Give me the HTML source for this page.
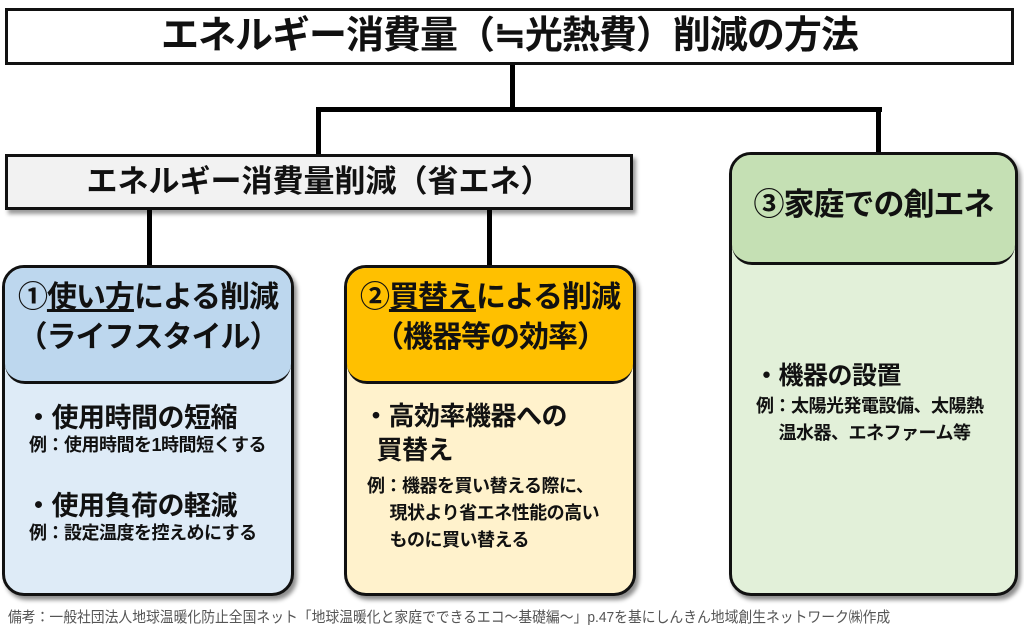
<!DOCTYPE html>
<html><head><meta charset="utf-8"><style>
body{margin:0;width:1024px;height:637px;background:#fff;position:relative;overflow:hidden;font-family:"Liberation Sans","Noto Sans CJK JP",sans-serif;color:#111}
.a{position:absolute;box-sizing:border-box}
.line{position:absolute;background:#000}
.card{position:absolute;box-sizing:border-box;border:3px solid #111;border-radius:22px;overflow:hidden;box-shadow:3px 4px 4px rgba(0,0,0,.45)}
.hd{position:absolute;left:0;right:0;top:0;border-bottom:3px solid #111;border-radius:0 0 20px 20px;text-align:center;font-weight:bold;white-space:nowrap;letter-spacing:-1px}
.bl{position:absolute;font-weight:bold;white-space:nowrap;letter-spacing:-0.5px}
</style></head><body>
<div class="line" style="left:316px;top:107px;width:566px;height:5px"></div>
<div class="line" style="left:510px;top:60px;width:5px;height:50px"></div>
<div class="line" style="left:316px;top:107px;width:5px;height:50px"></div>
<div class="line" style="left:876px;top:107px;width:5px;height:50px"></div>
<div class="line" style="left:147px;top:205px;width:5px;height:65px"></div>
<div class="line" style="left:487px;top:205px;width:5px;height:65px"></div>

<div class="a" style="left:5px;top:8px;width:1009px;height:57px;border:3px solid #111;background:#fff;text-align:center;font-weight:bold;font-size:38px;line-height:51px;white-space:nowrap;letter-spacing:-1px">エネルギー消費量（≒光熱費）削減の方法</div>

<div class="a" style="left:5px;top:154px;width:628px;height:56px;border:3px solid #111;background:#f2f2f2;text-align:center;font-weight:bold;font-size:31px;line-height:50px;white-space:nowrap;box-shadow:3px 4px 4px rgba(0,0,0,.4)">エネルギー消費量削減（省エネ）</div>

<div class="card" style="left:2px;top:265px;width:292px;height:331px;background:#deebf7">
 <div class="hd" style="height:103px;background:#bdd7ee;font-size:30px;line-height:40px;padding-top:10px">①<span style="text-decoration:underline">使い方</span>による削減<br>（ライフスタイル）</div>
 <div class="bl" style="left:20px;top:128px;font-size:27px">・使用時間の短縮</div>
 <div class="bl" style="left:24px;top:163px;font-size:18px">例：使用時間を1時間短くする</div>
 <div class="bl" style="left:20px;top:216px;font-size:27px">・使用負荷の軽減</div>
 <div class="bl" style="left:24px;top:251px;font-size:18px">例：設定温度を控えめにする</div>
</div>

<div class="card" style="left:344px;top:265px;width:292px;height:331px;background:#fff2cc">
 <div class="hd" style="height:103px;background:#ffc000;font-size:30px;line-height:40px;padding-top:10px">②<span style="text-decoration:underline">買替え</span>による削減<br>（機器等の効率）</div>
 <div class="bl" style="left:16px;top:131px;font-size:26px;line-height:34px">・高効率機器への<br>&nbsp;&nbsp;買替え</div>
 <div class="bl" style="left:20px;top:205px;font-size:18px;line-height:27px">例：機器を買い替える際に、<br>&nbsp;&nbsp;&nbsp;&nbsp;&nbsp;現状より省エネ性能の高い<br>&nbsp;&nbsp;&nbsp;&nbsp;&nbsp;ものに買い替える</div>
</div>

<div class="card" style="left:729px;top:152px;width:289px;height:444px;background:#e2f0d9">
 <div class="hd" style="height:107px;background:#c5e0b4;font-size:31px;line-height:100px">③家庭での創エネ</div>
 <div class="bl" style="left:22px;top:201px;font-size:25px">・機器の設置</div>
 <div class="bl" style="left:24px;top:238px;font-size:18px;line-height:27px">例：太陽光発電設備、太陽熱<br>&nbsp;&nbsp;&nbsp;&nbsp;&nbsp;温水器、エネファーム等</div>
</div>

<div class="a" style="left:8px;top:606px;font-size:15px;color:#555;white-space:nowrap;transform:scaleX(.92);transform-origin:left">備考：一般社団法人地球温暖化防止全国ネット「地球温暖化と家庭でできるエコ～基礎編～」p.47を基にしんきん地域創生ネットワーク㈱作成</div>
</body></html>
